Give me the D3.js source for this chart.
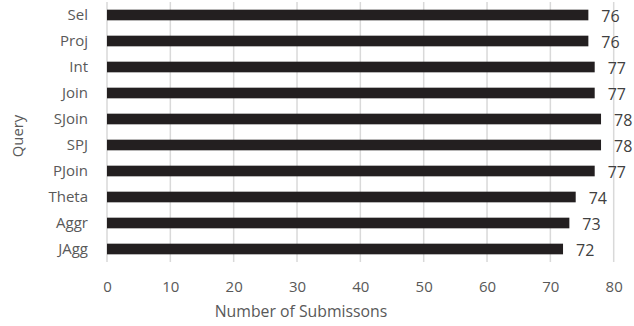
<!DOCTYPE html>
<html>
<head>
<meta charset="utf-8">
<script src="https://cdn.jsdelivr.net/npm/d3@7"></script>
<style>
  html, body { margin: 0; padding: 0; background: #fff; }
  svg { display: block; font-family: "Open Sans", "Noto Sans", sans-serif; }
</style>
</head>
<body>
<svg id="chart" width="634" height="326"></svg>
<script>
// Submissions per query type
const queries = ["Sel", "Proj", "Int", "Join", "SJoin", "SPJ", "PJoin", "Theta", "Aggr", "JAgg"];
const submissions = [76, 76, 77, 77, 78, 78, 77, 74, 73, 72];
const xTicks = [0, 10, 20, 30, 40, 50, 60, 70, 80];

const svg = d3.select("#chart");
const margin = { top: 2, left: 107 };
const plotW = 506.7, plotH = 260;

const x = d3.scaleLinear().domain([0, 80]).range([0, plotW]);
const y = d3.scaleBand().domain(queries).range([0, plotH]).paddingInner(0.59).paddingOuter(0.295);

const g = svg.append("g").attr("transform", `translate(${margin.left},${margin.top})`);

// vertical gridlines
g.selectAll("line.grid").data(xTicks).join("line")
  .attr("class", "grid")
  .attr("x1", d => x(d)).attr("x2", d => x(d))
  .attr("y1", 0).attr("y2", plotH)
  .attr("stroke", "#d9d9d9").attr("stroke-width", 1.5);

// bars
g.selectAll("rect.bar").data(queries).join("rect")
  .attr("class", "bar")
  .attr("x", x(0))
  .attr("y", d => y(d))
  .attr("width", (d, i) => x(submissions[i]) - x(0))
  .attr("height", y.bandwidth())
  .attr("fill", "#231f20");

// value labels
g.selectAll("text.val").data(queries).join("text")
  .attr("class", "val")
  .attr("x", (d, i) => x(submissions[i]) + 13)
  .attr("y", d => y(d) + y.bandwidth() / 2 + 1)
  .attr("dy", "0.35em")
  .attr("font-size", 16)
  .attr("fill", "#404040")
  .text((d, i) => submissions[i]);

// category axis
const yAxis = g.append("g").call(d3.axisLeft(y).tickSize(0).tickPadding(19));
yAxis.select(".domain").remove();
yAxis.selectAll("text").attr("font-size", 15).attr("fill", "#595959")
  .attr("font-family", "\"Open Sans\", \"Noto Sans\", sans-serif");

// value axis
const xAxis = g.append("g").attr("transform", `translate(0,${plotH})`)
  .call(d3.axisBottom(x).tickValues(xTicks).tickSize(0).tickPadding(19));
xAxis.select(".domain").remove();
xAxis.selectAll("text").attr("font-size", 15).attr("fill", "#595959")
  .attr("font-family", "\"Open Sans\", \"Noto Sans\", sans-serif");

// axis titles
svg.append("text")
  .attr("x", 301)
  .attr("y", 317)
  .attr("text-anchor", "middle")
  .attr("font-size", 15.8)
  .attr("fill", "#595959")
  .text("Number of Submissons");

svg.append("text")
  .attr("transform", "translate(23,136) rotate(-90)")
  .attr("text-anchor", "middle")
  .attr("font-size", 14.8)
  .attr("fill", "#595959")
  .text("Query");
</script>
</body>
</html>
